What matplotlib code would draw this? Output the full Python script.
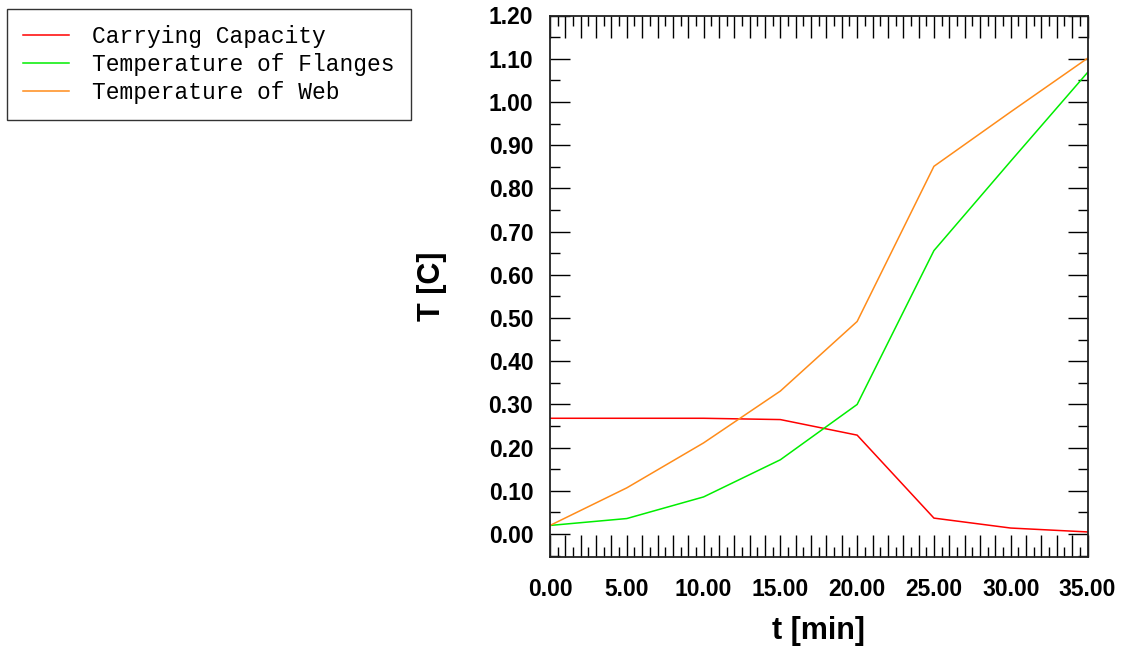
import numpy as np
import matplotlib
matplotlib.use("Agg")
import matplotlib.pyplot as plt
from matplotlib.ticker import MultipleLocator, FuncFormatter

# values
t_min = [0, 5, 10, 15, 20, 25, 30, 35]
carrying_capacity = [0.268, 0.268, 0.268, 0.265, 0.229, 0.037, 0.014, 0.005]
temp_flanges = [0.020, 0.036, 0.086, 0.172, 0.300, 0.656, 0.863, 1.068]
temp_web = [0.020, 0.107, 0.211, 0.331, 0.492, 0.851, 0.977, 1.101]
series_names = ["Carrying Capacity", "Temperature of Flanges", "Temperature of Web"]
series_colors = ["#ff0000", "#00ee00", "#ff8c1a"]


def xlabel_fmt(v, pos):
    if abs(v / 5 - round(v / 5)) < 1e-6:
        return f"{v:.2f}"
    return ""


def main():
    plt.rcParams["font.family"] = ["Liberation Sans", "DejaVu Sans"]
    fig = plt.figure(figsize=(11.3, 6.51), dpi=100)
    ax = fig.add_axes([550 / 1130, 1 - 557 / 651, 537.5 / 1130, 541.5 / 651])

    lines = []
    for ys, name, col in zip([carrying_capacity, temp_flanges, temp_web], series_names, series_colors):
        ln, = ax.plot(t_min, ys, color=col, lw=1.1, label=name)
        lines.append(ln)

    ax.set_xlim(0, 35)
    ax.set_ylim(-0.053, 1.2)

    ax.xaxis.set_major_locator(MultipleLocator(1))
    ax.xaxis.set_minor_locator(MultipleLocator(0.5))
    ax.xaxis.set_major_formatter(FuncFormatter(xlabel_fmt))
    ax.yaxis.set_major_locator(MultipleLocator(0.1))
    ax.yaxis.set_minor_locator(MultipleLocator(0.05))
    ax.yaxis.set_major_formatter(FuncFormatter(lambda v, p: f"{v:.2f}"))

    ax.tick_params(which="both", direction="in", top=True, right=True, width=1.0, color="black")
    ax.tick_params(axis="x", which="major", length=16, pad=15, labelsize=16.5)
    ax.tick_params(axis="x", which="minor", length=7.5)
    ax.tick_params(axis="y", which="major", length=14.5, pad=12, labelsize=16.5)
    ax.tick_params(axis="y", which="minor", length=7.5)
    for lab in ax.get_xticklabels() + ax.get_yticklabels():
        lab.set_fontweight("bold")
    for sp in ax.spines.values():
        sp.set_linewidth(1.3)
        sp.set_color("#222222")

    ax.set_xlabel("t [min]", fontsize=22, fontweight="bold")
    ax.set_ylabel("T [C]", fontsize=22, fontweight="bold")
    ax.xaxis.label.set_va("center")
    ax.yaxis.label.set_va("center")
    ax.xaxis.set_label_coords(0.5, -0.136)
    ax.yaxis.set_label_coords(-0.22, 0.5)

    leg = fig.legend(handles=lines, loc="upper left", bbox_to_anchor=(7 / 1130, 1 - 9 / 651),
                     prop={"family": "Liberation Mono", "size": 16.5}, frameon=True, fancybox=False,
                     edgecolor="black", handlelength=2.0, handletextpad=1.0, labelspacing=0.2,
                     borderpad=0.72, borderaxespad=0.0)
    leg.get_frame().set_linewidth(1.0)

    fig.savefig("out.png", dpi=100)


if __name__ == "__main__":
    main()
